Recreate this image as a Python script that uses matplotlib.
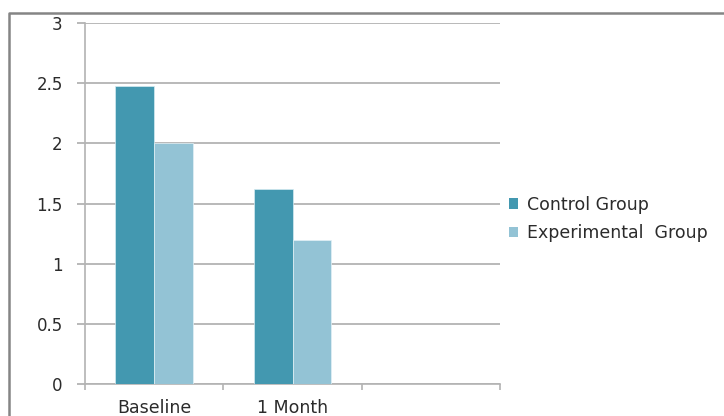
import matplotlib.pyplot as plt
import numpy as np
from matplotlib.patches import Patch
from matplotlib.lines import Line2D

plt.rcParams['font.family'] = ['DejaVu Sans']

# Three category slots, the last one left empty
categories = ['Baseline', '1 Month', '']
control = [2.48, 1.62, np.nan]
experimental = [2.0, 1.2, np.nan]
series_names = ['Control Group', 'Experimental  Group']
yticks = [0, 0.5, 1, 1.5, 2, 2.5, 3]

c_control = '#4398b0'
c_exp = '#93c3d5'
grid_c = '#a6a6a6'
text_c = '#2b2b2b'

fig = plt.figure(figsize=(7.24, 4.16), dpi=100)
ax = fig.add_axes([85 / 724, 1 - 384 / 416, 415 / 724, 361 / 416])

x = np.arange(len(categories))
w = 0.28
ax.bar(x - w / 2, control, w, color=c_control, edgecolor='#d6ebf1', linewidth=0.5,
       label=series_names[0], zorder=3)
ax.bar(x + w / 2, experimental, w, color=c_exp, edgecolor='#e3f1f6', linewidth=0.5,
       label=series_names[1], zorder=3)

ax.set_xlim(-0.5, len(categories) - 0.5)
ax.set_ylim(0, 3)
ax.set_yticks(yticks)
ax.set_yticklabels([f'{v:g}' for v in yticks])
ax.set_xticks(x)
ax.set_xticklabels(categories)
ax.set_xticks(np.arange(len(categories) + 1) - 0.5, minor=True)

ax.yaxis.grid(True, color=grid_c, linewidth=1.1, zorder=0)
ax.set_axisbelow(True)

for s in ['top', 'right']:
    ax.spines[s].set_visible(False)
for s in ['left', 'bottom']:
    ax.spines[s].set_color('#b3b3b3')
    ax.spines[s].set_linewidth(1.2)

ax.tick_params(axis='y', length=6, width=1.1, color=grid_c, pad=10,
               labelsize=12, labelcolor=text_c)
ax.tick_params(axis='x', which='major', length=0, pad=11,
               labelsize=12.5, labelcolor=text_c)
ax.tick_params(axis='x', which='minor', length=4, width=1.2, color='#b3b3b3')

handles = [Patch(facecolor=c_control), Patch(facecolor=c_exp)]
leg = fig.legend(handles, series_names, loc='center left',
                 bbox_to_anchor=(502 / 724, 1 - 219 / 416), frameon=False,
                 fontsize=12.5, handlelength=0.55, handleheight=0.55,
                 handletextpad=0.5, labelspacing=0.6, borderaxespad=0)
for t in leg.get_texts():
    t.set_color(text_c)

# Outer chart-area frame (top and left edges)
fig.add_artist(Line2D([9 / 724, 9 / 724, 1.0], [0.0, 1 - 13 / 416, 1 - 13 / 416],
                      transform=fig.transFigure, color='#858585', linewidth=1.8))

fig.savefig('out.png', dpi=100)
